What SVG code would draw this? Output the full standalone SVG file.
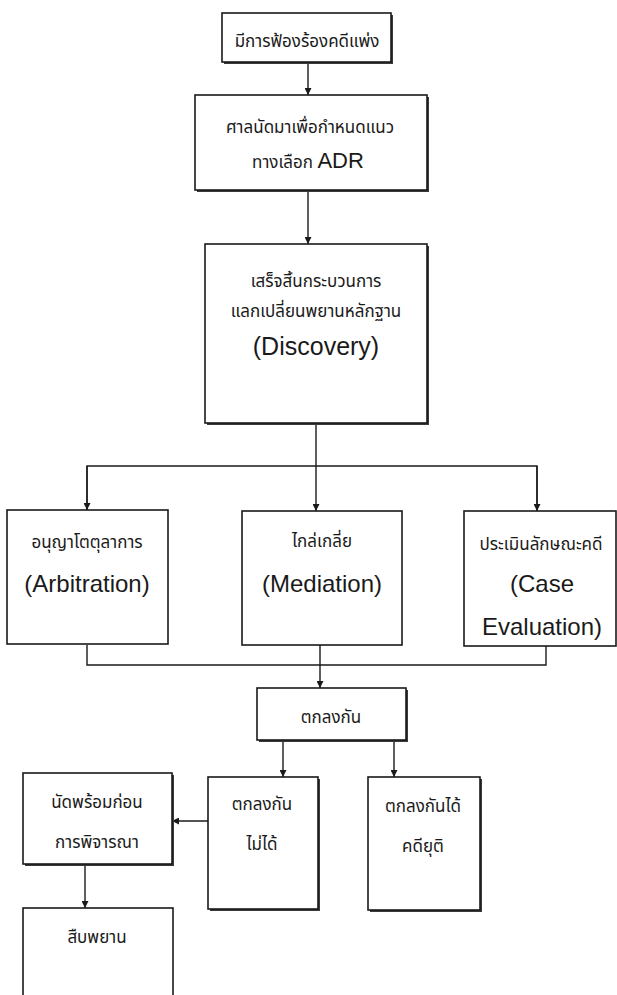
<svg xmlns="http://www.w3.org/2000/svg" width="617" height="995" viewBox="0 0 617 995">
<defs>
<style>
.box{fill:#fff;stroke:#1a1a1a;stroke-width:1.6}
.sh{fill:#3a3a3a;stroke:none}
.con{fill:none;stroke:#1a1a1a;stroke-width:1.4}
.th{font-family:"Noto Sans Thai","Noto Sans","DejaVu Sans",sans-serif;font-size:17px;fill:#1a1a1a;text-anchor:middle}
.en{font-family:"Liberation Sans",Arial,sans-serif;font-size:24px;fill:#1a1a1a;text-anchor:middle}
</style>
<marker id="arr" viewBox="0 0 10 10" refX="10" refY="5" markerWidth="7" markerHeight="7" markerUnits="userSpaceOnUse" orient="auto">
<path d="M0,0 L10,5 L0,10 z" fill="#1a1a1a"/>
</marker>
</defs>
<rect width="617" height="995" fill="#fff"/>
<g id="connectors">
<line class="con" x1="308" y1="62" x2="308" y2="95" marker-end="url(#arr)"/>
<line class="con" x1="308" y1="190" x2="308" y2="244" marker-end="url(#arr)"/>
<polyline class="con" points="316,423 316,466"/>
<polyline class="con" points="87,510 87,466 537,466 537,511"/>
<line class="con" x1="87" y1="466" x2="87" y2="510" marker-end="url(#arr)"/>
<line class="con" x1="316" y1="466" x2="316" y2="511" marker-end="url(#arr)"/>
<line class="con" x1="537" y1="466" x2="537" y2="511" marker-end="url(#arr)"/>
<polyline class="con" points="87,645 87,665 546,665 546,646"/>
<line class="con" x1="320" y1="645" x2="320" y2="688" marker-end="url(#arr)"/>
<line class="con" x1="283" y1="741" x2="283" y2="777" marker-end="url(#arr)"/>
<line class="con" x1="394" y1="741" x2="394" y2="777" marker-end="url(#arr)"/>
<line class="con" x1="208" y1="821" x2="172" y2="821" marker-end="url(#arr)"/>
<line class="con" x1="85" y1="864" x2="85" y2="908" marker-end="url(#arr)"/>
</g>
<g id="n_filing">
<rect class="sh" x="224" y="15" width="169" height="49"/>
<rect class="box" x="222" y="13" width="169" height="49"/>
<text class="th" x="307" y="47">มีการฟ้องร้องคดีแพ่ง</text>
</g>
<g id="n_court">
<rect class="sh" x="197" y="97" width="232" height="95"/>
<rect class="box" x="195" y="95" width="232" height="95"/>
<text class="th" x="310" y="133">ศาลนัดมาเพื่อกำหนดแนว</text>
<text class="th" x="308" y="168">ทางเลือก <tspan style="font-family:'Liberation Sans',Arial,sans-serif;font-size:22px">ADR</tspan></text>
</g>
<g id="n_discovery">
<rect class="sh" x="207" y="246" width="222" height="179"/>
<rect class="box" x="205" y="244" width="222" height="179"/>
<text class="th" x="316" y="287">เสร็จสิ้นกระบวนการ</text>
<text class="th" x="316" y="317">แลกเปลี่ยนพยานหลักฐาน</text>
<text class="en" x="316" y="355" style="font-size:25px">(Discovery)</text>
</g>
<g id="n_arbitration">
<rect class="box" x="7" y="510" width="161" height="134"/>
<text class="th" x="87" y="548">อนุญาโตตุลาการ</text>
<text class="en" x="87" y="592">(Arbitration)</text>
</g>
<g id="n_mediation">
<rect class="box" x="242" y="511" width="160" height="134"/>
<text class="th" x="322" y="547">ไกล่เกลี่ย</text>
<text class="en" x="322" y="592">(Mediation)</text>
</g>
<g id="n_case">
<rect class="box" x="464" y="511" width="152" height="135"/>
<text class="th" x="541" y="550">ประเมินลักษณะคดี</text>
<text class="en" x="542" y="592">(Case</text>
<text class="en" x="542" y="635">Evaluation)</text>
</g>
<g id="n_agree">
<rect class="sh" x="259" y="690" width="149" height="52"/>
<rect class="box" x="257" y="688" width="149" height="52"/>
<text class="th" x="331" y="723">ตกลงกัน</text>
</g>
<g id="n_fail">
<rect class="sh" x="210" y="779" width="110" height="132"/>
<rect class="box" x="208" y="777" width="110" height="132"/>
<text class="th" x="262" y="810">ตกลงกัน</text>
<text class="th" x="262" y="850">ไม่ได้</text>
</g>
<g id="n_success">
<rect class="sh" x="370" y="779" width="112" height="133"/>
<rect class="box" x="368" y="777" width="112" height="133"/>
<text class="th" x="423" y="812">ตกลงกันได้</text>
<text class="th" x="423" y="852">คดียุติ</text>
</g>
<g id="n_pretrial">
<rect class="sh" x="25" y="775" width="149" height="91"/>
<rect class="box" x="23" y="773" width="149" height="91"/>
<text class="th" x="97" y="808">นัดพร้อมก่อน</text>
<text class="th" x="97" y="848">การพิจารณา</text>
</g>
<g id="n_witness">
<rect class="box" x="23" y="908" width="150" height="100"/>
<text class="th" x="97" y="943">สืบพยาน</text>
</g>
</svg>
